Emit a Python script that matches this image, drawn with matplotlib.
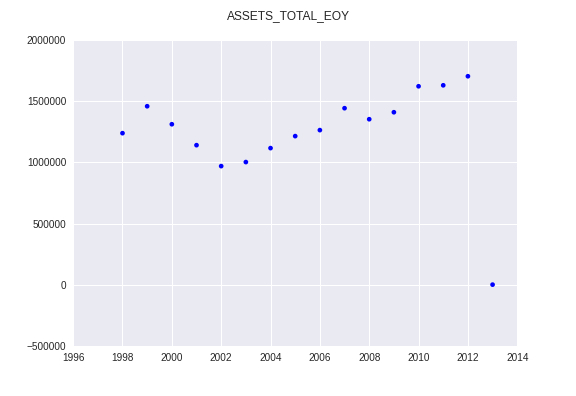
import matplotlib
matplotlib.use("Agg")
import matplotlib.pyplot as plt

years = [1998, 1999, 2000, 2001, 2002, 2003, 2004, 2005, 2006, 2007, 2008, 2009, 2010, 2011, 2012, 2013]
assets = [1239000, 1459000, 1312000, 1141000, 970000, 1003000, 1117000, 1215000, 1264000,
          1443000, 1353000, 1410000, 1622000, 1630000, 1704000, 2000]

plt.rcParams['font.family'] = ['Liberation Sans', 'DejaVu Sans']
fig = plt.figure(figsize=(8, 5.5), dpi=72)
ax = fig.add_axes([0.127, 0.126, 0.771, 0.773])
ax.set_facecolor('#EAEAF2')
for s in ax.spines.values():
    s.set_visible(False)
ax.grid(True, color='white', linewidth=1)
ax.set_axisbelow(True)
ax.scatter(years, assets, s=22, color='blue', edgecolors='none', zorder=3)
ax.set_xlim(1996, 2014)
ax.set_ylim(-500000, 2000000)
ax.set_xticks(range(1996, 2015, 2))
ax.set_yticks(range(-500000, 2000001, 500000))
ax.ticklabel_format(style='plain', useOffset=False)
ax.tick_params(length=0, labelsize=10, colors='#262626', pad=7)
fig.suptitle('ASSETS_TOTAL_EOY', fontsize=12, color='#262626', y=0.975)
fig.savefig('out.png', dpi=72)
